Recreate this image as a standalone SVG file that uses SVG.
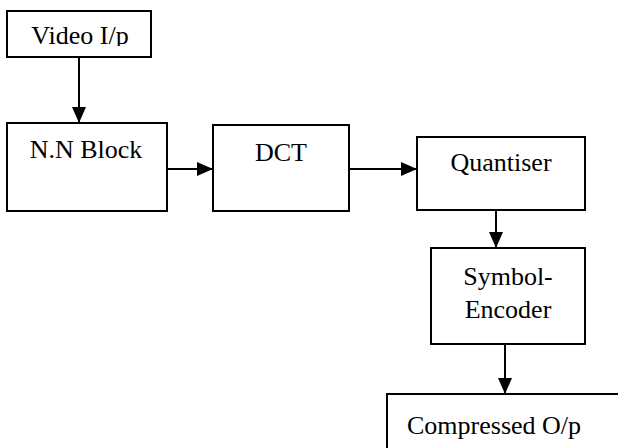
<svg xmlns="http://www.w3.org/2000/svg" width="618" height="448" viewBox="0 0 618 448">
  <style>
    .box { fill: #fff; stroke: #000; stroke-width: 2; }
    .lbl { font-family: "Liberation Serif", "Times New Roman", serif; font-size: 26px; fill: #000; }
    .wire { stroke: #000; stroke-width: 2; fill: none; }
  </style>
  <defs>
    <marker id="headBig" viewBox="0 0 16 14" refX="16" refY="7" markerWidth="16" markerHeight="14" markerUnits="userSpaceOnUse" orient="auto">
      <path d="M0,0 L16,7 L0,14 Z" fill="#000"/>
    </marker>
    <clipPath id="videoClip">
      <rect x="8" y="12" width="142" height="34"/>
    </clipPath>
  </defs>

  <g id="video-input">
    <rect class="box" x="7" y="11" width="144" height="46"/>
    <text class="lbl" x="80" y="44" text-anchor="middle" clip-path="url(#videoClip)">Video I/p</text>
  </g>

  <g id="nn-block">
    <rect class="box" x="7" y="123" width="160" height="88"/>
    <text class="lbl" x="86" y="158" text-anchor="middle">N.N Block</text>
  </g>

  <g id="dct">
    <rect class="box" x="213" y="125" width="136" height="86"/>
    <text class="lbl" x="281" y="161" text-anchor="middle">DCT</text>
  </g>

  <g id="quantiser">
    <rect class="box" x="417" y="137" width="168" height="73"/>
    <text class="lbl" x="501" y="171" text-anchor="middle">Quantiser</text>
  </g>

  <g id="symbol-encoder">
    <rect class="box" x="431" y="248" width="154" height="96"/>
    <text class="lbl" x="508" y="285" text-anchor="middle">Symbol-</text>
    <text class="lbl" x="508" y="318" text-anchor="middle">Encoder</text>
  </g>

  <g id="compressed-output">
    <rect class="box" x="387" y="394" width="240" height="70"/>
    <text class="lbl" x="407" y="434">Compressed O/p</text>
  </g>

  <g id="connectors">
    <line class="wire" x1="79" y1="57" x2="79" y2="123" marker-end="url(#headBig)"/>
    <line class="wire" x1="167" y1="169" x2="213" y2="169" marker-end="url(#headBig)"/>
    <line class="wire" x1="349" y1="169" x2="417" y2="169" marker-end="url(#headBig)"/>
    <line class="wire" x1="496" y1="210" x2="496" y2="248" marker-end="url(#headBig)"/>
    <line class="wire" x1="505" y1="344" x2="505" y2="394" marker-end="url(#headBig)"/>
  </g>
</svg>
